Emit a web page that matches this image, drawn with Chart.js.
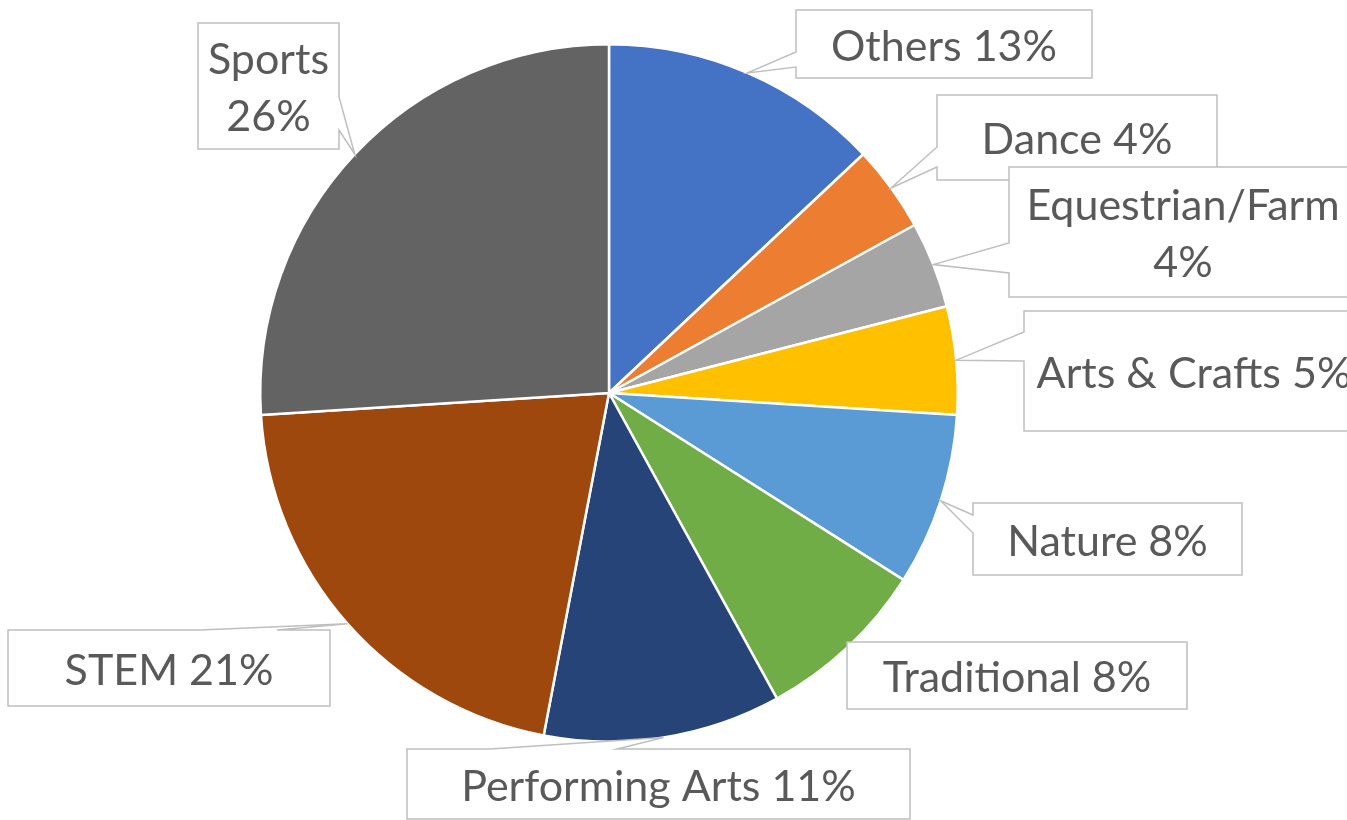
<!DOCTYPE html>
<html>
<head>
<meta charset="utf-8">
<script src="https://cdn.jsdelivr.net/npm/chart.js@4"></script>
<style>
  html, body { margin: 0; padding: 0; background: #ffffff; }
  #wrap { width: 1347px; height: 820px; position: relative; }
</style>
</head>
<body>
<div id="wrap"><canvas id="c" width="1347" height="820"></canvas></div>
<script>
// ---- data ----
const categories = ["Others", "Dance", "Equestrian/Farm", "Arts & Crafts", "Nature", "Traditional", "Performing Arts", "STEM", "Sports"];
const values = [13, 4, 4, 5, 8, 8, 11, 21, 26];
const colors = ["#4472C4", "#ED7D31", "#A5A5A5", "#FFC000", "#5B9BD5", "#70AD47", "#264478", "#9E480E", "#636363"];

// ---- callout box layout (pixels) ----
// side: edge of the box the wedge leaves from; a,b: wedge base along that edge
const calloutLayout = [
  { x: 796,  y: 10,  w: 296, h: 68,  side: "left",   a: 52,  b: 67,  wrap: false },
  { x: 937,  y: 95,  w: 280, h: 85,  side: "left",   a: 147, b: 167, wrap: false },
  { x: 1009, y: 167, w: 348, h: 130, side: "left",   a: 243, b: 273, wrap: true  },
  { x: 1024, y: 311, w: 340, h: 120, side: "left",   a: 332, b: 361, wrap: false },
  { x: 973,  y: 503, w: 269, h: 72,  side: "left",   a: 515, b: 533, wrap: false },
  { x: 847,  y: 642, w: 340, h: 67,  side: "none",   a: 0,   b: 0,   wrap: false },
  { x: 407,  y: 749, w: 503, h: 70,  side: "top",    a: 490, b: 617, wrap: false },
  { x: 8,    y: 630, w: 322, h: 76,  side: "top",    a: 200, b: 277, wrap: false },
  { x: 198,  y: 23,  w: 141, h: 126, side: "right",  a: 97,  b: 130, wrap: true  }
];

const FONT = '43px Lato, "Open Sans", sans-serif';
const LINE_H = 57;

const calloutPlugin = {
  id: 'callouts',
  afterDatasetsDraw(chart) {
    const ctx = chart.ctx;
    const meta = chart.getDatasetMeta(0);
    ctx.save();
    ctx.font = FONT;
    ctx.textAlign = 'center';
    ctx.textBaseline = 'middle';
    meta.data.forEach((arc, i) => {
      const L = calloutLayout[i];
      const p = arc.getProps(['x', 'y', 'startAngle', 'endAngle', 'outerRadius'], true);
      const mid = (p.startAngle + p.endAngle) / 2;
      const px = p.x + Math.cos(mid) * p.outerRadius;
      const py = p.y + Math.sin(mid) * p.outerRadius;
      const x0 = L.x, y0 = L.y, x1 = L.x + L.w, y1 = L.y + L.h;
      ctx.beginPath();
      ctx.moveTo(x0, y0);
      if (L.side === 'top') {
        ctx.lineTo(L.a, y0); ctx.lineTo(px, py); ctx.lineTo(L.b, y0);
      }
      ctx.lineTo(x1, y0);
      if (L.side === 'right') {
        ctx.lineTo(x1, L.a); ctx.lineTo(px, py); ctx.lineTo(x1, L.b);
      }
      ctx.lineTo(x1, y1);
      ctx.lineTo(x0, y1);
      if (L.side === 'left') {
        ctx.lineTo(x0, L.b); ctx.lineTo(px, py); ctx.lineTo(x0, L.a);
      }
      ctx.closePath();
      ctx.fillStyle = '#ffffff';
      ctx.fill();
      ctx.lineWidth = 1.5;
      ctx.strokeStyle = '#BFBFBF';
      ctx.stroke();

      const pct = values[i] + '%';
      const lines = L.wrap ? [categories[i], pct] : [categories[i] + ' ' + pct];
      const cx = (x0 + x1) / 2;
      const cy = (y0 + y1) / 2;
      ctx.fillStyle = '#595959';
      lines.forEach((t, k) => {
        ctx.fillText(t, cx, cy + (k - (lines.length - 1) / 2) * LINE_H + 3);
      });
    });
    ctx.restore();
  }
};

new Chart(document.getElementById('c'), {
  type: 'pie',
  data: {
    labels: categories,
    datasets: [{
      data: values,
      backgroundColor: colors,
      borderColor: '#ffffff',
      borderWidth: 2.5
    }]
  },
  options: {
    responsive: false,
    animation: false,
    layout: { padding: { top: 43, bottom: 77, left: 259, right: 388 } },
    plugins: {
      legend: { display: false },
      tooltip: { enabled: false }
    }
  },
  plugins: [calloutPlugin]
});
</script>
</body>
</html>
